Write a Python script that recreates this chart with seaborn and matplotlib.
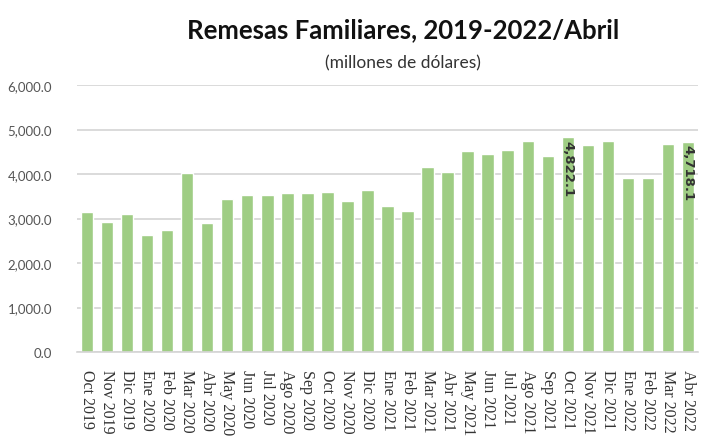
import matplotlib
matplotlib.use("Agg")
import matplotlib.pyplot as plt
import seaborn as sns
import pandas as pd

# datos (millones de dólares)
meses = ["Oct 2019", "Nov 2019", "Dic 2019", "Ene 2020", "Feb 2020", "Mar 2020",
         "Abr 2020", "May 2020", "Jun 2020", "Jul 2020", "Ago 2020", "Sep 2020",
         "Oct 2020", "Nov 2020", "Dic 2020", "Ene 2021", "Feb 2021", "Mar 2021",
         "Abr 2021", "May 2021", "Jun 2021", "Jul 2021", "Ago 2021", "Sep 2021",
         "Oct 2021", "Nov 2021", "Dic 2021", "Ene 2022", "Feb 2022", "Mar 2022",
         "Abr 2022"]
remesas = [3150, 2920, 3100, 2630, 2740, 4020,
           2900, 3440, 3530, 3530, 3570, 3570,
           3600, 3390, 3640, 3290, 3170, 4160,
           4040, 4520, 4450, 4545, 4750, 4400,
           4822.1, 4660, 4750, 3910, 3910, 4680,
           4718.1]
etiquetados = ["Oct 2021", "Abr 2022"]
y_ticks = [0, 1000, 2000, 3000, 4000, 5000, 6000]

df = pd.DataFrame({"mes": meses, "valor": remesas})

sns.set_theme(style="white")
plt.rcParams['font.family'] = ['Lato', 'DejaVu Sans']

fig = plt.figure(figsize=(7.05, 4.39), dpi=100)
ax = fig.add_axes([77 / 705, 1 - 353 / 439, 621 / 705, 267 / 439])

sns.barplot(data=df, x="mes", y="valor", color="#9fcd84", width=0.62,
            saturation=1, ax=ax)

ax.set_ylim(0, 6000)
ax.set_yticks(y_ticks)
ax.set_yticklabels([f"{v:,.1f}" for v in y_ticks], color="#555555", fontsize=9.5)
ax.yaxis.grid(True, color="#d4d4d4", linewidth=1.2)
ax.set_axisbelow(True)
ax.tick_params(axis="x", rotation=270, pad=6)
for t in ax.get_xticklabels():
    t.set_family("Liberation Serif")
    t.set_fontsize(11.5)
    t.set_color("#333333")
ax.tick_params(axis="y", pad=18, length=0)
ax.set_xlabel("")
ax.set_ylabel("")
for s in ["top", "right", "left"]:
    ax.spines[s].set_visible(False)
ax.spines["bottom"].set_color("#d4d4d4")
ax.spines["bottom"].set_linewidth(1.2)

for i, (m, v) in enumerate(zip(meses, remesas)):
    if m in etiquetados:
        ax.text(i, v - 50, f"{v:,.1f}", rotation=270, ha="center", va="top",
                fontsize=9.5, fontweight="bold", color="#333333",
                family="DejaVu Sans")

fig.text(0.572, 0.913, "Remesas Familiares, 2019-2022/Abril", ha="center",
         fontsize=18.5, fontweight="bold", color="#111111")
fig.text(0.572, 0.845, "(millones de dólares)", ha="center", fontsize=12.5,
         color="#333333")

fig.savefig("out.png", dpi=100)
